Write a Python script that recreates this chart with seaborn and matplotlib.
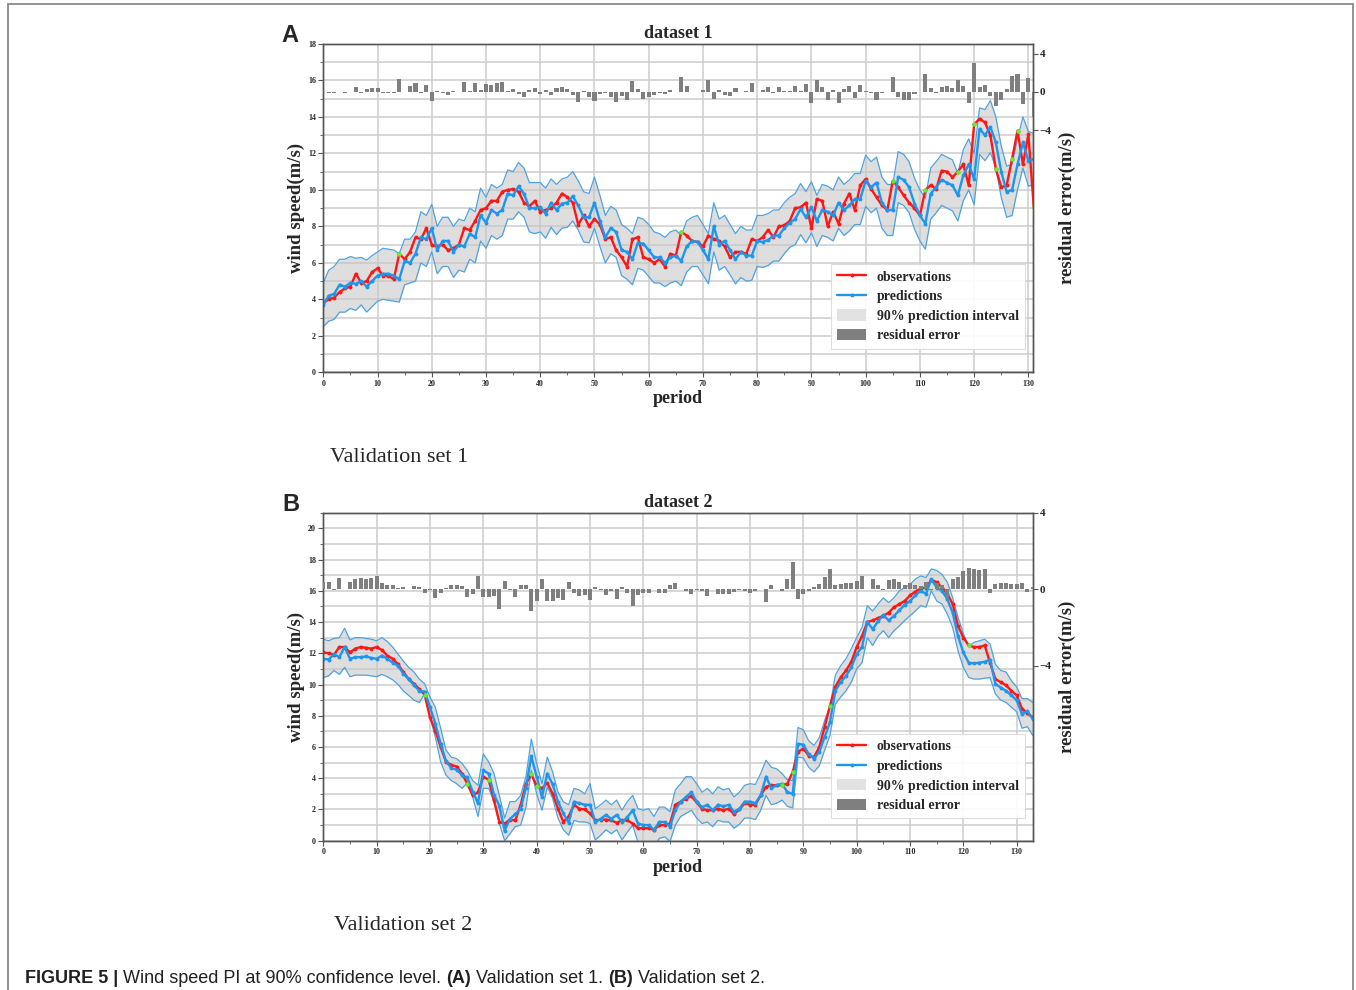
import numpy as np
import pandas as pd
import matplotlib
matplotlib.use("Agg")
import matplotlib.pyplot as plt
import seaborn as sns
from matplotlib.lines import Line2D
from matplotlib.patches import Patch
from matplotlib.ticker import MultipleLocator, FixedLocator
from matplotlib import font_manager

# ---------------- data: validation set 1 ----------------
obs_a = [3.8, 4.0, 4.1, 4.4, 4.6, 4.7, 5.4, 4.9, 5.0, 5.5,
         5.7, 5.3, 5.3, 5.1, 6.5, 6.2, 6.6, 7.4, 7.3, 7.9,
         7.0, 6.9, 7.0, 6.7, 6.8, 7.0, 7.9, 7.8, 8.3, 8.9,
         9.0, 9.4, 9.4, 9.9, 10.0, 10.05, 9.9, 9.3, 9.1, 9.4,
         8.8, 8.9, 9.0, 9.3, 9.8, 9.6, 9.3, 8.1, 8.6, 8.0,
         8.4, 8.1, 7.3, 7.4, 6.7, 6.3, 5.8, 7.3, 7.4, 6.3,
         6.2, 6.0, 6.2, 5.8, 6.5, 6.4, 7.7, 7.5, 7.2, 7.15,
         6.9, 7.5, 7.3, 7.2, 6.9, 6.3, 6.6, 6.6, 6.5, 7.3,
         7.2, 7.4, 7.8, 7.4, 8.0, 8.05, 8.3, 9.0, 9.05, 9.3,
         7.9, 9.5, 9.4, 8.0, 8.8, 8.15, 9.25, 9.8, 8.9, 10.25,
         10.6, 10.05, 9.6, 9.15, 8.9, 10.5, 10.15, 9.7, 9.3, 9.0,
         8.6, 10.0, 10.25, 10.05, 11.05, 11.0, 10.7, 11.0, 11.4, 10.25,
         13.6, 13.9, 13.7, 13.0, 11.15, 10.15, 10.25, 11.7, 13.25, 11.4,
         13.05, 9.05]
pred_a = [3.7, 4.2, 4.3, 4.8, 4.7, 4.9, 4.85, 5.0, 4.7, 5.0,
          5.3, 5.4, 5.4, 5.3, 5.1, 6.1, 6.0, 6.5, 7.4, 7.3,
          7.9, 6.7, 7.2, 7.2, 6.6, 7.0, 6.9, 7.6, 7.4, 8.6,
          8.2, 8.9, 8.7, 8.9, 9.8, 9.7, 10.2, 9.8, 9.0, 9.0,
          9.05, 8.7, 9.3, 8.9, 9.25, 9.3, 9.65, 9.15, 8.5, 8.5,
          9.3, 8.3, 7.4, 7.9, 7.7, 6.7, 6.6, 6.2, 7.1, 7.05,
          6.7, 6.3, 6.3, 6.0, 6.3, 6.4, 6.1, 6.9, 7.2, 7.15,
          6.7, 6.2, 8.0, 7.0, 7.2, 6.7, 6.2, 6.6, 6.4, 6.4,
          7.2, 7.15, 7.25, 7.5, 7.5, 7.9, 8.2, 8.4, 8.95, 8.5,
          9.05, 8.3, 8.9, 8.8, 8.6, 9.3, 8.9, 9.15, 9.5, 9.5,
          10.5, 10.15, 10.4, 9.3, 8.9, 8.9, 10.7, 10.55, 10.15, 9.25,
          8.6, 8.15, 9.8, 10.15, 10.55, 10.4, 10.25, 9.7, 10.8, 11.4,
          10.6, 13.35, 13.0, 13.45, 12.6, 11.0, 9.9, 10.0, 11.4, 12.6,
          11.6, 11.7]
upper_a = [4.9, 5.6, 5.8, 6.2, 6.2, 6.35, 6.25, 6.3, 6.15, 6.4,
           6.6, 6.8, 6.75, 6.7, 6.5, 7.3, 7.3, 7.7, 8.8, 8.6,
           9.2, 8.0, 8.5, 8.5, 8.0, 8.4, 8.3, 9.0, 8.8, 10.1,
           9.6, 10.3, 10.1, 10.3, 11.1, 11.0, 11.5, 11.2, 10.4, 10.4,
           10.4, 10.1, 10.6, 10.3, 10.6, 10.7, 11.0, 10.5, 9.9, 9.8,
           10.7, 9.7, 8.6, 9.1, 8.9, 8.1, 7.9, 7.6, 8.5, 8.4,
           8.1, 7.7, 7.6, 7.4, 7.7, 7.8, 7.5, 8.3, 8.5, 8.6,
           8.1, 7.6, 9.3, 8.4, 8.6, 8.1, 7.6, 8.0, 7.8, 7.8,
           8.6, 8.6, 8.7, 8.9, 8.9, 9.3, 9.6, 9.8, 10.35, 9.9,
           10.45, 9.7, 10.3, 10.2, 10.0, 10.7, 10.3, 10.55, 10.9, 10.9,
           11.9, 11.55, 11.8, 10.7, 10.3, 10.3, 12.1, 11.95, 11.55, 10.65,
           10.0, 9.55, 11.2, 11.55, 11.95, 11.8, 11.65, 10.9, 12.2, 12.8,
           12.0, 14.5, 14.4, 14.9, 14.0, 12.4, 11.3, 11.4, 12.8, 14.0,
           13.2, 13.1]
lower_a = [2.5, 2.8, 2.9, 3.3, 3.3, 3.5, 3.4, 3.7, 3.3, 3.6,
           3.9, 4.0, 3.95, 3.9, 3.85, 4.8, 4.9, 5.0, 6.0, 5.8,
           6.6, 5.4, 5.8, 5.8, 5.2, 5.6, 5.5, 6.2, 6.0, 7.2,
           6.8, 7.5, 7.3, 7.5, 8.4, 8.4, 8.8, 8.5, 7.7, 7.6,
           7.7, 7.35, 7.95, 7.55, 7.9, 7.95, 8.3, 7.8, 7.15, 7.1,
           7.9, 6.9, 6.0, 6.5, 6.3, 5.3, 5.1, 4.8, 5.7, 5.6,
           5.25, 4.9, 4.9, 4.7, 4.9, 5.0, 4.75, 5.5, 5.8, 5.8,
           5.35, 4.85, 6.6, 5.6, 5.8, 5.35, 4.85, 5.2, 5.0, 5.05,
           5.8, 5.75, 5.85, 6.1, 6.1, 6.5, 6.85, 7.0, 7.55, 7.1,
           7.65, 6.9, 7.5, 7.4, 7.2, 7.9, 7.5, 7.75, 8.1, 8.1,
           9.1, 8.75, 9.0, 7.9, 7.5, 7.5, 9.3, 9.15, 8.75, 7.85,
           7.2, 6.75, 8.4, 8.75, 9.15, 9.0, 8.85, 8.3, 9.4, 10.0,
           9.2, 11.95, 11.6, 12.05, 11.2, 9.6, 8.5, 8.6, 10.0, 11.2,
           10.2, 10.3]
resid_a = [-0.05, -0.1, -0.15, -0.05, -0.1, -0.05, 0.55, -0.1, 0.3, 0.45,
           0.45, -0.1, -0.1, -0.1, 1.4, -0.05, 0.6, 0.9, -0.1, 0.7,
           -0.9, 0.1, -0.15, -0.35, 0.1, 0.0, 1.05, 0.15, 0.9, 0.25,
           0.85, 0.75, 0.9, 1.0, 0.15, 0.3, -0.2, -0.5, 0.2, 0.4,
           -0.25, 0.2, -0.3, 0.4, 0.55, 0.3, -0.35, -1.05, 0.1, -0.5,
           -0.9, -0.2, -0.1, -0.5, -1.0, -0.4, -0.8, 1.1, 0.3, -0.75,
           -0.5, -0.3, -0.1, -0.2, 0.2, 0.0, 1.6, 0.6, 0.0, 0.0,
           0.2, 1.3, -0.7, 0.2, -0.3, -0.4, 0.4, 0.0, 0.1, 0.9,
           0.0, 0.25, 0.55, -0.1, 0.5, 0.15, 0.1, 0.6, 0.1, 0.8,
           -1.15, 1.2, 0.5, -0.8, 0.2, -1.15, 0.35, 0.65, -0.6, 0.75,
           0.1, -0.1, -0.8, -0.15, 0.0, 1.6, -0.55, -0.85, -0.85, -0.25,
           0.0, 1.85, 0.45, -0.1, 0.5, 0.6, 0.45, 1.3, 0.6, -1.15,
           3.0, 0.55, 0.7, -0.45, -1.45, -0.85, 0.35, 1.7, 1.85, -1.2,
           1.45, -2.65]
green_a = [14, 66, 105, 111, 117, 120, 124, 127, 128, 131]

# ---------------- data: validation set 2 ----------------
obs_b = [12.05, 12.0, 11.9, 12.4, 12.4, 12.05, 12.3, 12.4, 12.35, 12.3,
         12.4, 12.2, 11.85, 11.65, 11.3, 10.8, 10.35, 10.05, 9.7, 9.35,
         7.9, 7.05, 6.0, 5.05, 4.85, 4.75, 4.3, 3.65, 2.9, 3.1,
         4.1, 3.9, 2.6, 1.2, 1.1, 1.35, 1.3, 2.3, 3.65, 4.25,
         3.5, 3.35, 3.7, 3.0, 2.05, 1.2, 1.55, 2.3, 2.05, 2.0,
         1.75, 1.3, 1.35, 1.35, 1.3, 1.15, 1.3, 1.3, 1.1, 0.8,
         0.8, 0.8, 0.7, 1.0, 1.0, 1.1, 2.3, 2.5, 2.7, 2.85,
         2.45, 2.05, 1.95, 1.95, 2.05, 1.95, 2.05, 1.7, 2.0, 2.4,
         2.3, 2.3, 2.9, 3.45, 3.55, 3.55, 3.55, 3.65, 4.4, 5.7,
         5.9, 5.45, 5.35, 6.0, 7.3, 8.65, 9.85, 10.45, 10.9, 11.45,
         12.4, 13.1, 14.0, 14.1, 14.25, 14.4, 14.6, 14.95, 15.15, 15.35,
         15.7, 15.95, 16.15, 16.2, 16.7, 16.55, 16.2, 15.8, 15.15, 13.75,
         13.0, 12.5, 12.4, 12.4, 12.5, 11.4, 10.35, 10.15, 9.95, 9.6,
         9.3, 8.45, 8.15, 7.9]
pred_b = [11.65, 11.6, 11.95, 11.75, 12.4, 11.65, 11.75, 11.75, 11.8, 11.7,
          11.65, 11.85, 11.65, 11.4, 11.2, 10.7, 10.35, 9.95, 9.6, 9.55,
          8.55, 7.5, 6.2, 5.1, 4.65, 4.55, 4.2, 4.05, 3.15, 2.4,
          4.5, 4.3, 2.95, 2.25, 0.65, 1.4, 1.7, 2.05, 3.4, 5.4,
          4.1, 2.8, 4.3, 3.6, 2.5, 1.75, 1.15, 2.5, 2.4, 2.3,
          2.3, 1.2, 1.4, 1.65, 1.4, 1.65, 1.2, 1.5, 1.95, 1.1,
          1.0, 1.0, 0.7, 1.2, 1.2, 0.9, 1.95, 2.5, 2.8, 3.1,
          2.5, 2.15, 2.3, 1.95, 2.3, 2.2, 2.3, 1.85, 2.05, 2.5,
          2.5, 2.4, 2.9, 4.1, 3.35, 3.55, 3.65, 3.1, 3.0, 6.2,
          6.15, 5.55, 5.25, 5.7, 6.65, 7.6, 9.6, 10.15, 10.55, 11.1,
          11.95, 12.4, 14.0, 13.55, 14.05, 14.45, 14.1, 14.4, 14.75, 15.1,
          15.35, 15.7, 16.0, 15.8, 16.75, 16.2, 16.0, 15.45, 14.6, 13.1,
          12.05, 11.4, 11.35, 11.4, 11.45, 11.6, 10.05, 9.8, 9.6, 9.3,
          9.0, 8.1, 8.3, 7.8]
upper_b = [12.9, 12.8, 12.95, 13.0, 13.6, 12.85, 13.0, 13.0, 12.95, 12.9,
           12.8, 13.0, 12.75, 12.4, 11.95, 11.5, 11.1, 10.8, 10.35, 10.05,
           9.2, 8.55, 7.2, 5.8, 5.35, 5.25, 4.95, 4.5, 3.85, 3.55,
           5.55, 5.05, 4.3, 2.9, 1.45, 2.5, 2.5, 2.9, 4.1, 6.5,
           4.95, 3.65, 5.35, 4.4, 3.1, 2.5, 2.3, 3.35, 3.25, 3.0,
           3.65, 2.05, 2.3, 2.6, 2.3, 2.6, 1.95, 2.5, 2.9, 2.05,
           1.95, 2.05, 1.55, 2.15, 2.15, 1.85, 3.25, 3.65, 4.1, 4.1,
           3.65, 3.1, 3.35, 3.0, 3.45, 3.25, 3.35, 2.8, 3.1, 3.55,
           3.65, 3.6, 4.3, 5.15, 4.7, 4.6, 4.3, 3.9, 3.85, 7.25,
           7.1, 6.4, 6.1, 6.6, 7.7, 8.6, 10.6, 11.2, 11.65, 12.3,
           13.0, 13.65, 15.05, 14.7, 15.15, 15.55, 15.25, 15.55, 16.0, 16.2,
           16.4, 16.75, 16.95, 16.85, 17.4, 17.3, 17.05, 16.55, 15.55, 14.3,
           13.25, 12.45, 12.7, 12.8, 12.9, 12.6, 11.3, 10.9, 10.8, 10.25,
           9.85, 9.1, 9.1, 8.85]
lower_b = [10.45, 10.55, 10.9, 10.65, 11.1, 10.5, 10.6, 10.6, 10.6, 10.55,
           10.5, 10.65, 10.5, 10.3, 10.0, 9.6, 9.3, 9.0, 8.85, 9.4,
           7.9, 6.65, 5.05, 4.2, 3.85, 3.65, 3.35, 3.7, 2.8, 1.55,
           3.35, 3.35, 2.5, 1.1, 0.0, 0.45, 0.9, 1.0, 2.15, 4.5,
           3.0, 1.95, 3.45, 2.7, 1.45, 0.7, 0.35, 1.3, 1.2, 1.2,
           1.1, 0.05, 0.35, 0.7, 0.45, 0.7, 0.05, 0.55, 1.0, -0.1,
           -0.1, -0.05, -0.4, 0.15, 0.25, -0.05, 1.0, 1.55, 1.75, 1.95,
           1.45, 1.1, 1.2, 0.9, 1.3, 1.2, 1.2, 0.8, 1.05, 1.45,
           1.45, 1.35, 1.95, 2.9, 2.3, 2.4, 2.6, 2.2, 2.1, 5.35,
           5.3, 4.7, 4.4, 4.8, 5.8, 6.75, 8.75, 9.2, 9.6, 10.15,
           11.0, 11.4, 13.0, 12.5, 13.1, 13.45, 13.0, 13.45, 13.75, 14.1,
           14.4, 14.7, 15.05, 14.95, 16.0, 15.35, 15.15, 14.5, 13.65, 12.15,
           11.1, 10.45, 10.35, 10.35, 10.4, 10.45, 9.4, 9.0, 8.85, 8.55,
           8.25, 7.2, 7.3, 6.75]
resid_b = [0.4, 0.4, -0.05, 0.6, 0.0, 0.4, 0.55, 0.6, 0.55, 0.6,
           0.7, 0.35, 0.25, 0.2, 0.05, 0.1, 0.0, 0.15, 0.1, -0.2,
           -0.05, -0.45, -0.2, 0.05, 0.2, 0.2, 0.15, -0.4, -0.25, 0.7,
           -0.4, -0.4, -0.35, -1.05, 0.45, -0.05, -0.4, 0.25, 0.25, -1.15,
           -0.6, 0.55, -0.6, -0.6, -0.45, -0.55, 0.4, -0.2, -0.35, -0.3,
           -0.55, 0.1, -0.05, -0.3, -0.1, -0.5, 0.1, -0.2, -0.85, -0.3,
           -0.2, -0.2, 0.0, -0.2, -0.2, 0.2, 0.35, 0.0, -0.1, -0.25,
           -0.05, -0.1, -0.35, 0.0, -0.25, -0.25, -0.25, -0.15, -0.05, -0.1,
           -0.2, -0.1, 0.0, -0.65, 0.2, 0.0, -0.1, 0.55, 1.4, -0.5,
           -0.25, -0.1, 0.1, 0.3, 0.65, 1.05, 0.25, 0.3, 0.35, 0.35,
           0.45, 0.7, 0.0, 0.55, 0.2, -0.05, 0.5, 0.55, 0.4, 0.25,
           0.35, 0.25, 0.15, 0.4, -0.05, 0.35, 0.2, -0.45, 0.55, 0.65,
           0.95, 1.1, 1.05, 1.0, 1.05, -0.2, 0.3, 0.35, 0.35, 0.3,
           0.3, 0.35, -0.15, 0.1]
green_b = [19, 27, 31, 39, 40, 86, 88, 95, 121]

legend_labels = ["observations", "predictions", "90% prediction interval", "residual error"]
titles = ["dataset 1", "dataset 2"]
subtitles = ["Validation set 1", "Validation set 2"]
caption_pieces = [("FIGURE 5 | ", "bold"), ("Wind speed PI at 90% confidence level. ", "normal"),
                  ("(A)", "bold"), (" Validation set 1. ", "normal"),
                  ("(B)", "bold"), (" Validation set 2.", "normal")]

# ---------------- style ----------------
sns.set_theme(style="ticks")
plt.rcParams["font.family"] = ["Liberation Serif", "DejaVu Serif"]
plt.rcParams["font.weight"] = "bold"
plt.rcParams["axes.unicode_minus"] = True

W, H = 1356, 990
fig = plt.figure(figsize=(W / 100, H / 100), dpi=100)
fig.patch.set_facecolor("white")
renderer = fig.canvas.get_renderer()


def fx(px):
    return px / W


def fy(py):
    return 1.0 - py / H


RED = "#ff1616"
BLUE = "#1c96ee"
EDGE = "#4ea3de"
FILL = "#c4c4c4"
BAR = "#7f7f7f"
GRID = "#cdcdcd"
SPINE = "#555555"


def make_df(obs, pred, lower, upper, resid):
    return pd.DataFrame({"period": np.arange(len(obs)), "obs": obs, "pred": pred,
                         "lower": lower, "upper": upper, "resid": resid})


def draw_panel(box, df, green, ylim, rlim, xmax, title, leg_anchor):
    l, t, r, b = box
    ax = fig.add_axes([fx(l), fy(b), fx(r) - fx(l), fy(t) - fy(b)])
    ax.set_axisbelow(True)
    ax.fill_between(df["period"], df["lower"], df["upper"], color=FILL, alpha=0.55,
                    linewidth=0, zorder=1)
    sns.lineplot(data=df, x="period", y="upper", ax=ax, color=EDGE, linewidth=0.9, zorder=2)
    sns.lineplot(data=df, x="period", y="lower", ax=ax, color=EDGE, linewidth=0.9, zorder=2)
    sns.lineplot(data=df, x="period", y="obs", ax=ax, color=RED, linewidth=1.7, marker="o",
                 markersize=2.8, markeredgewidth=0, zorder=3)
    sns.lineplot(data=df, x="period", y="pred", ax=ax, color=BLUE, linewidth=1.7, marker="o",
                 markersize=2.8, markeredgewidth=0, zorder=4)
    g = df.iloc[green]
    ax.scatter(g["period"], g["obs"], s=10, color="#5df02c", linewidths=0, zorder=5)

    ax.set_xlim(0, xmax)
    ax.set_ylim(*ylim)
    ax.set_xlabel("")
    ax.set_ylabel("")
    ax.xaxis.set_major_locator(MultipleLocator(10))
    ax.xaxis.set_minor_locator(MultipleLocator(5))
    ax.yaxis.set_major_locator(MultipleLocator(2))
    ax.yaxis.set_minor_locator(MultipleLocator(1))
    ax.grid(True, which="major", axis="both", color=GRID, linewidth=1.1)
    ax.grid(True, which="minor", axis="y", color=GRID, linewidth=1.1)
    ax.tick_params(axis="both", which="major", labelsize=5.8, length=3.5, width=0.8,
                   color=SPINE, pad=1.8, bottom=True, left=True, top=False, right=False)
    ax.tick_params(axis="both", which="minor", length=2, width=0.6, color=SPINE,
                   bottom=True, left=True, top=False, right=False)
    for s in ax.spines.values():
        s.set_color(SPINE)
        s.set_linewidth(1.0)
        s.set_visible(True)

    ax2 = ax.twinx()
    ax2.bar(df["period"], df["resid"], width=0.75, color=BAR, linewidth=0, zorder=3)
    ax2.set_ylim(*rlim)
    ax2.yaxis.set_major_locator(FixedLocator([-4, 0, 4]))
    ax2.tick_params(axis="y", labelsize=8, length=3.5, width=0.8, color=SPINE, pad=1.5,
                    right=True, left=False)
    ax2.grid(False)
    for s in ax2.spines.values():
        s.set_color(SPINE)
        s.set_linewidth(1.0)
        s.set_visible(True)

    handles = [Line2D([], [], color=RED, linewidth=1.7, marker="o", markersize=2.8, markeredgewidth=0),
               Line2D([], [], color=BLUE, linewidth=1.7, marker="o", markersize=2.8, markeredgewidth=0),
               Patch(facecolor="#e2e2e2", edgecolor="none"),
               Patch(facecolor=BAR, edgecolor="none")]
    leg = ax2.legend(handles, legend_labels, loc="lower right", bbox_to_anchor=leg_anchor,
                     borderaxespad=0, prop={"size": 10, "weight": "bold"}, frameon=True,
                     fancybox=False, framealpha=0.92, edgecolor="#dadada", handlelength=2.1,
                     handleheight=0.85, handletextpad=0.75, labelspacing=0.45, borderpad=0.45)
    leg.get_frame().set_linewidth(0.8)

    cx = (l + r) / 2
    cy = (t + b) / 2
    fig.text(fx(cx), fy(t - 5.8), title, ha="center", va="baseline", fontsize=13)
    fig.text(fx(cx), fy(b + 31), "period", ha="center", va="baseline", fontsize=13)
    fig.text(fx(296), fy(cy), "wind speed(m/s)", ha="center", va="center", rotation=90,
             fontsize=13.5)
    fig.text(fx(1067), fy(cy), "residual error(m/s)", ha="center", va="center", rotation=90,
             fontsize=13.5)
    return ax, ax2


df_a = make_df(obs_a, pred_a, lower_a, upper_a, resid_a)
df_b = make_df(obs_b, pred_b, lower_b, upper_b, resid_b)

draw_panel((323.3, 44.0, 1032.7, 372.3), df_a, green_a, (0, 18), (-29.2, 5), 130.8,
           titles[0], (0.989, 0.072))
draw_panel((323.3, 512.7, 1032.7, 840.7), df_b, green_b, (0, 21), (-13.13, 4), 133,
           titles[1], (0.989, 0.068))

# panel letters
fig.text(fx(281), fy(41.5), "A", fontsize=17, fontweight="bold",
         family=["Liberation Sans", "DejaVu Sans"], ha="left", va="baseline")
fig.text(fx(282), fy(510.7), "B", fontsize=17, fontweight="bold",
         family=["Liberation Sans", "DejaVu Sans"], ha="left", va="baseline")

# sub captions
fig.text(fx(330), fy(461.5), subtitles[0], fontsize=16, fontweight="normal",
         ha="left", va="baseline")
fig.text(fx(334), fy(930.5), subtitles[1], fontsize=16, fontweight="normal",
         ha="left", va="baseline")

# figure caption, pieces placed one after another
names = {f.name for f in font_manager.fontManager.ttflist}
cap_family = "Liberation Sans Narrow" if "Liberation Sans Narrow" in names else "Liberation Sans"


def text_w(s, size, weight):
    t = fig.text(0, 0, s, fontsize=size, fontweight=weight, family=cap_family)
    w = t.get_window_extent(renderer).width
    t.remove()
    return w


def piece_w(s, size, weight):
    return text_w("|" + s + "|", size, weight) - text_w("||", size, weight)


base = 12.5
total = sum(piece_w(s, base, w) for s, w in caption_pieces)
size = base * 749.0 / total
size = min(size, 13.0)
x = 25.0
for s, w in caption_pieces:
    fig.text(fx(x), fy(983.3), s, fontsize=size, fontweight=w, family=cap_family,
             ha="left", va="baseline", color="#231f20")
    x += piece_w(s, size, w)

# page frame
frame_kw = dict(transform=fig.transFigure, color="#8a8a8a", linewidth=1.3)
fig.add_artist(Line2D([fx(8), fx(1353)], [fy(4), fy(4)], **frame_kw))
fig.add_artist(Line2D([fx(8), fx(8)], [fy(4), 0], **frame_kw))
fig.add_artist(Line2D([fx(1353), fx(1353)], [fy(4), 0], **frame_kw))

fig.savefig("out.png", dpi=100, facecolor="white")
